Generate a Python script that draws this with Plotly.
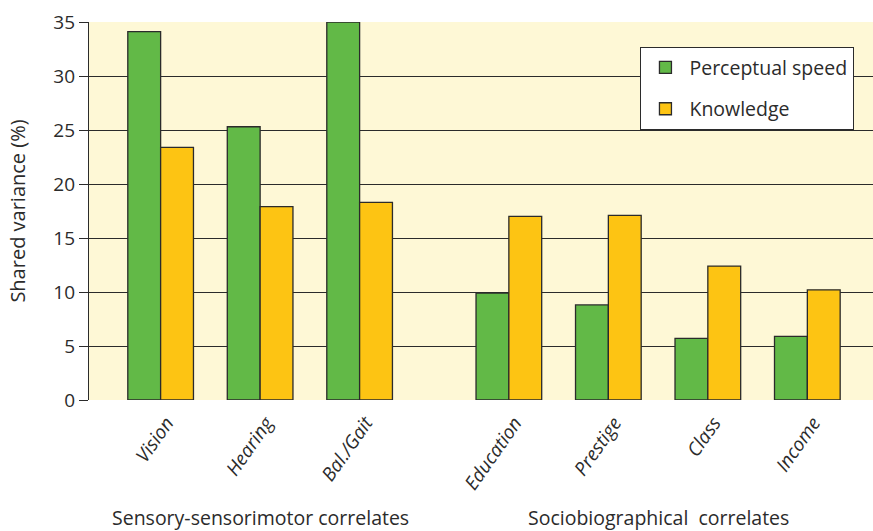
import plotly.graph_objects as go

categories = ["Vision", "Hearing", "Bal./Gait", "Education", "Prestige", "Class", "Income"]
positions = [0, 1, 2, 3.5, 4.5, 5.5, 6.5]
perceptual_speed = [34.1, 25.3, 35.0, 9.9, 8.8, 5.7, 5.9]
knowledge = [23.4, 17.9, 18.3, 17.0, 17.1, 12.4, 10.2]
y_ticks = [0, 5, 10, 15, 20, 25, 30, 35]
group_labels = ["Sensory-sensorimotor correlates", "Sociobiographical  correlates"]
group_centers = [1, 5]

FONT = "Open Sans"
INK = "#2b2b2b"

fig = go.Figure()
fig.add_trace(go.Bar(x=positions, y=perceptual_speed, name="Perceptual speed", legendgroup="a",
                     marker=dict(color="#62B947", line=dict(color=INK, width=1.3))))
fig.add_trace(go.Bar(x=positions, y=knowledge, name="Knowledge", legendgroup="b",
                     marker=dict(color="#FDC413", line=dict(color=INK, width=1.3))))

for txt, cx in zip(group_labels, group_centers):
    fig.add_annotation(x=cx, y=-0.31, xref="x", yref="paper", text=txt, showarrow=False,
                       xanchor="center", yanchor="middle",
                       font=dict(family=FONT, size=19.5, color=INK))

fig.update_layout(
    width=873, height=531,
    margin=dict(l=89, r=0, t=22, b=131),
    paper_bgcolor="white", plot_bgcolor="#FEF8D6",
    barmode="group", bargap=0.34, bargroupgap=0,
    font=dict(family=FONT, size=18, color=INK),
    showlegend=True,
    legend=dict(x=0.703, y=0.934, xanchor="left", yanchor="top",
                bgcolor="white", bordercolor=INK, borderwidth=1.3,
                font=dict(family=FONT, size=19.5, color=INK),
                itemwidth=38, tracegroupgap=13),
    xaxis=dict(range=[-0.72, 7.16], tickmode="array", tickvals=positions, ticktext=categories,
               tickangle=-55, showgrid=False, zeroline=False, showline=False, ticks="",
               ticklabelstandoff=7, ticklabelshift=6,
               tickfont=dict(family=FONT, size=19, color=INK, style="italic")),
    yaxis=dict(range=[0, 35], tickmode="array", tickvals=y_ticks,
               showgrid=True, gridcolor=INK, gridwidth=1.3,
               zeroline=False, showline=True, linecolor=INK, linewidth=1.3,
               ticks="outside", ticklen=9, tickcolor=INK, tickwidth=1.3,
               title=dict(text="Shared variance (%)", font=dict(family=FONT, size=20, color=INK), standoff=22),
               tickfont=dict(family=FONT, size=19, color=INK)),
)

fig.write_html("out.html", config={"displayModeBar": False},
               post_script="document.body.style.margin='0';document.documentElement.style.overflow='hidden';document.body.style.overflow='hidden';")
